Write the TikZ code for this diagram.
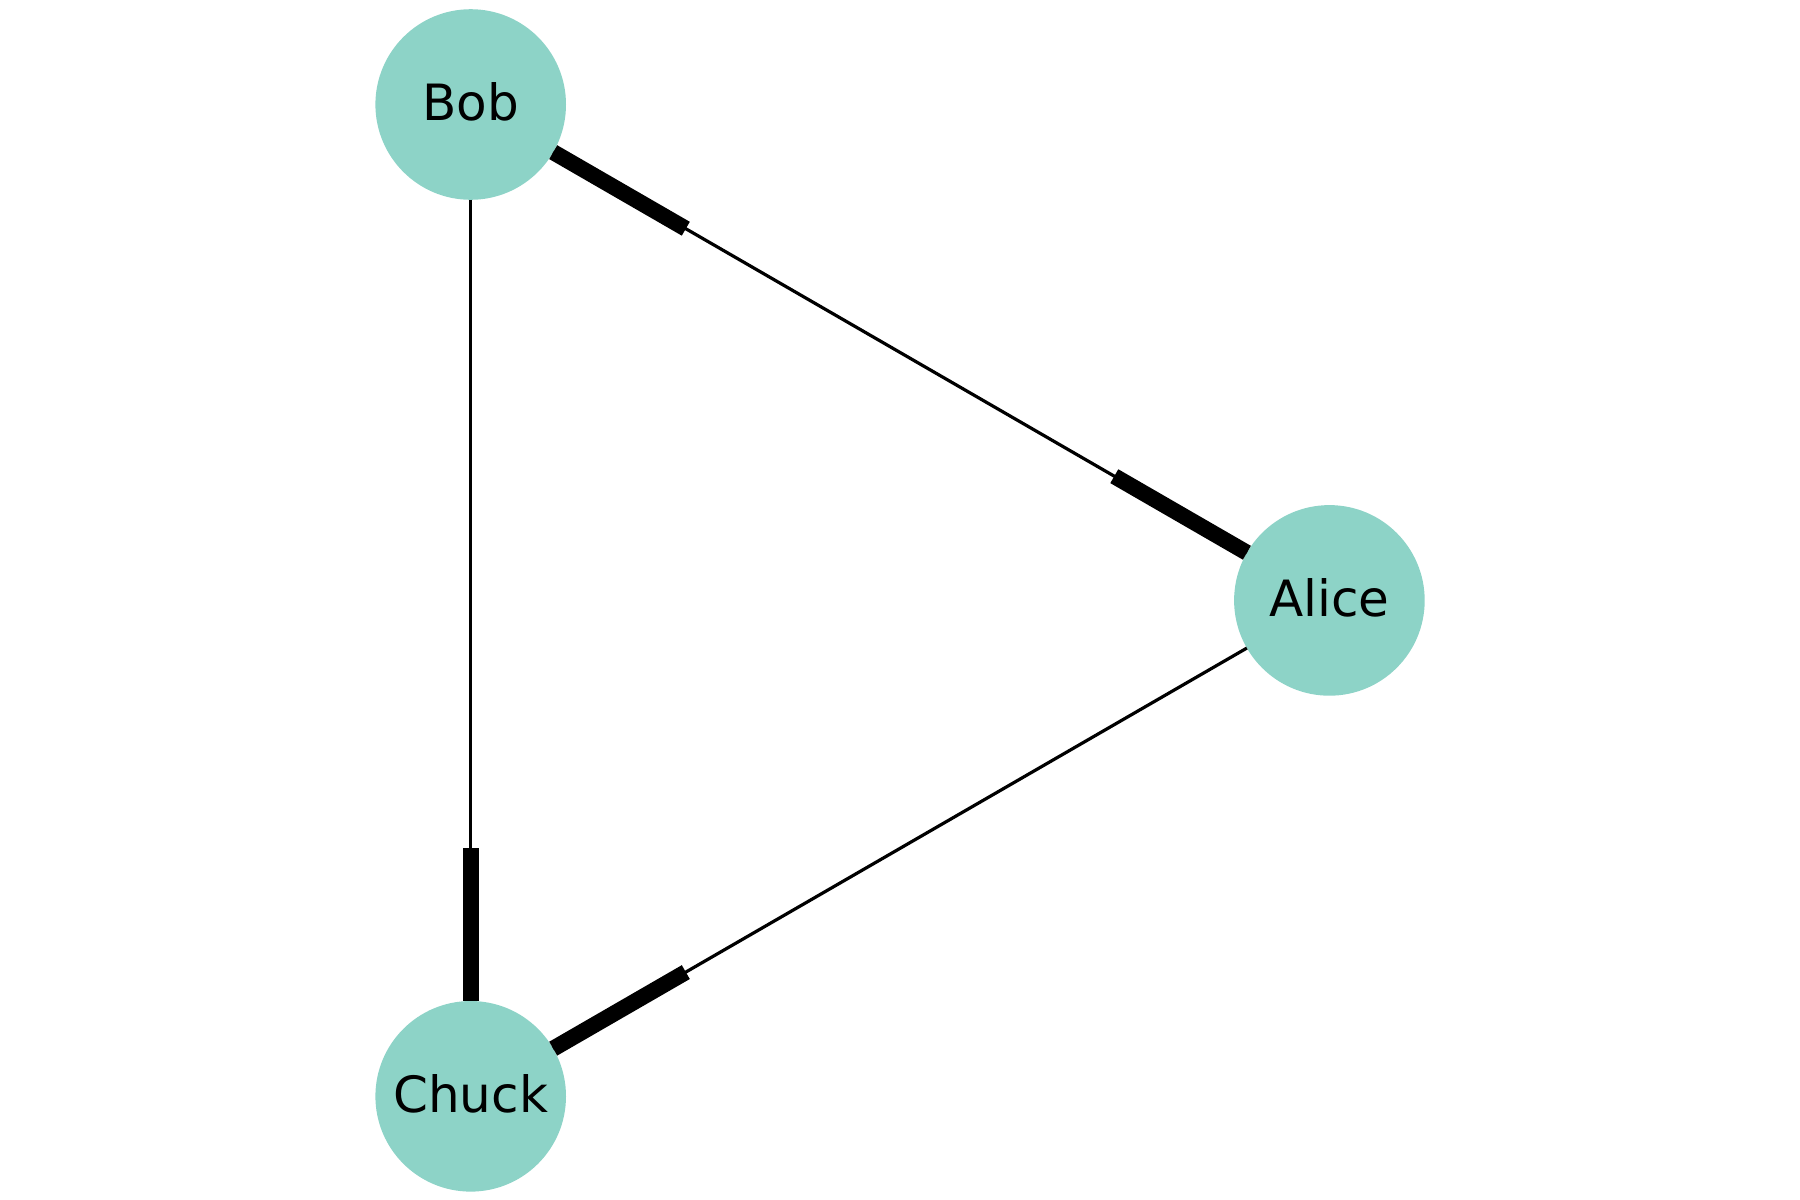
\documentclass[tikz,border=0pt]{standalone}
\usepackage{fontspec}
\setmainfont{DejaVu Sans}
\usetikzlibrary{calc}
\definecolor{nodefill}{HTML}{8DD3C7}
\newcommand{\lift}[1]{\raisebox{2.6pt}{#1}}
\tikzset{
  person/.style={circle, fill=nodefill, minimum size=95.3pt, inner sep=0pt, outer sep=0pt, font=\fontsize{25}{30}\selectfont},
  edgeline/.style={line width=1.6pt, black},
  headbar/.style={line width=8pt, black, line cap=butt}
}
\begin{document}
\begin{tikzpicture}[x=0.5pt,y=-0.5pt]
\useasboundingbox (0,0) rectangle (1800,1200);
\node[person] (bob) at (470.7,104.5) {\lift{Bob}};
\node[person] (chuck) at (470.7,1096.3) {\lift{Chuck}};
\node[person] (alice) at (1329.4,600.4) {\lift{Alice}};
% thin lines
\draw[edgeline] (bob) -- (alice);
\draw[edgeline] (bob) -- (chuck);
\draw[edgeline] (alice) -- (chuck);
% head bars
\draw[headbar] ($(alice.center)!47.65pt!(bob.center)$) -- ($(alice.center)!124.2pt!(bob.center)$);
\draw[headbar] ($(bob.center)!47.65pt!(alice.center)$) -- ($(bob.center)!124.2pt!(alice.center)$);
\draw[headbar] ($(chuck.center)!47.65pt!(bob.center)$) -- ($(chuck.center)!124.2pt!(bob.center)$);
\draw[headbar] ($(chuck.center)!47.65pt!(alice.center)$) -- ($(chuck.center)!124.2pt!(alice.center)$);
\end{tikzpicture}
\end{document}
